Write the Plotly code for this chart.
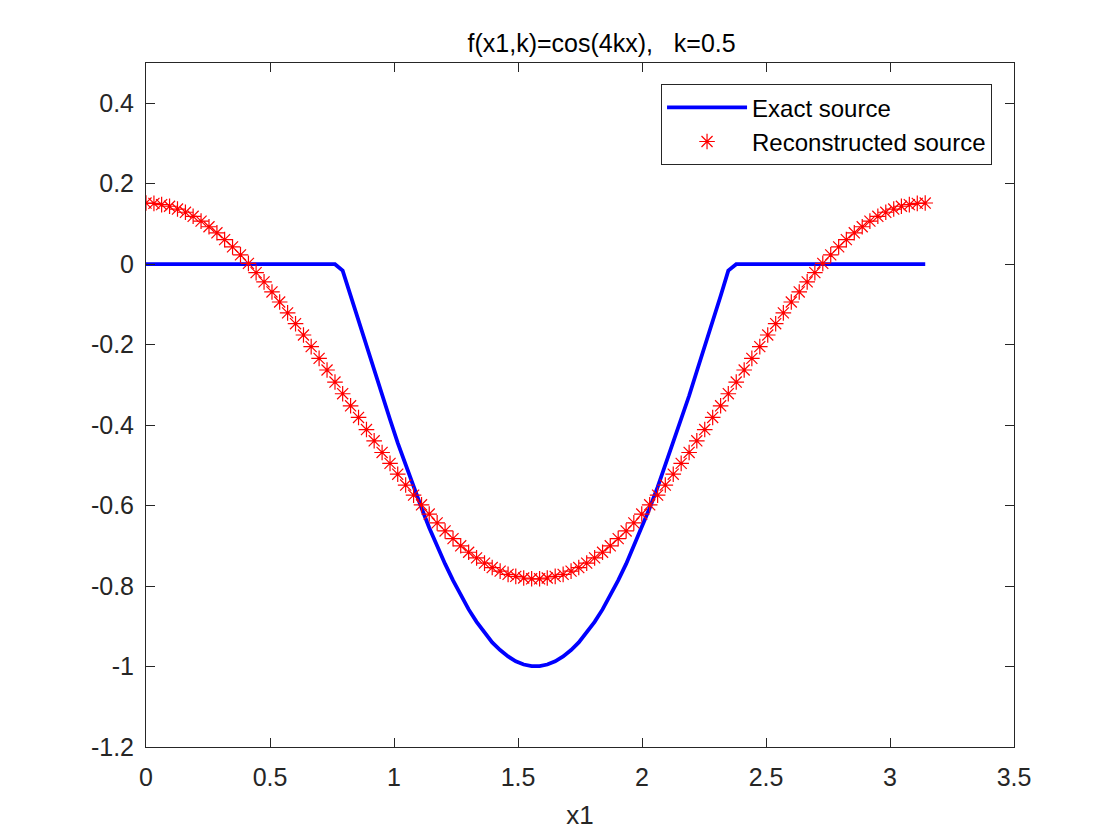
import plotly.graph_objects as go

# sample points on [0, pi]
x1 = [0.000, 0.032, 0.063, 0.095, 0.127, 0.159, 0.190, 0.222, 0.254, 0.286,
      0.317, 0.349, 0.381, 0.413, 0.444, 0.476, 0.508, 0.539, 0.571, 0.603,
      0.635, 0.666, 0.698, 0.730, 0.762, 0.793, 0.825, 0.857, 0.889, 0.920,
      0.952, 0.984, 1.015, 1.047, 1.079, 1.111, 1.142, 1.174, 1.206, 1.238,
      1.269, 1.301, 1.333, 1.365, 1.396, 1.428, 1.460, 1.491, 1.523, 1.555,
      1.587, 1.618, 1.650, 1.682, 1.714, 1.745, 1.777, 1.809, 1.841, 1.872,
      1.904, 1.936, 1.967, 1.999, 2.031, 2.063, 2.094, 2.126, 2.158, 2.190,
      2.221, 2.253, 2.285, 2.317, 2.348, 2.380, 2.412, 2.443, 2.475, 2.507,
      2.539, 2.570, 2.602, 2.634, 2.666, 2.697, 2.729, 2.761, 2.793, 2.824,
      2.856, 2.888, 2.919, 2.951, 2.983, 3.015, 3.046, 3.078, 3.110, 3.142]

exact_src = [0.0] * 25 + [
    -0.016, -0.079, -0.142, -0.205, -0.266, -0.327, -0.386, -0.444, -0.500, -0.554,
    -0.606, -0.655, -0.701, -0.745, -0.786, -0.824, -0.858, -0.889, -0.916, -0.940,
    -0.959, -0.975, -0.987, -0.995, -0.999,
    -0.999, -0.995, -0.987, -0.975, -0.959,
    -0.940, -0.916, -0.889, -0.858, -0.824, -0.786, -0.745, -0.701, -0.655, -0.606,
    -0.554, -0.500, -0.444, -0.386, -0.327, -0.266, -0.205, -0.142, -0.079, -0.016,
] + [0.0] * 25

recon_src = [
    0.152, 0.151, 0.148, 0.144, 0.137, 0.129, 0.119, 0.107, 0.093, 0.078,
    0.061, 0.043, 0.023, 0.002, -0.021, -0.044, -0.069, -0.094, -0.121, -0.148,
    -0.176, -0.205, -0.234, -0.263, -0.293, -0.322, -0.352, -0.381, -0.411, -0.439,
    -0.468, -0.495, -0.522, -0.549, -0.574, -0.598, -0.621, -0.643, -0.663, -0.682,
    -0.700, -0.716, -0.730, -0.743, -0.754, -0.763, -0.771, -0.776, -0.780, -0.782,
    -0.782, -0.780, -0.776, -0.771, -0.763, -0.754, -0.743, -0.730, -0.716, -0.700,
    -0.682, -0.663, -0.643, -0.621, -0.598, -0.574, -0.549, -0.522, -0.495, -0.468,
    -0.439, -0.411, -0.381, -0.352, -0.322, -0.293, -0.263, -0.234, -0.205, -0.176,
    -0.148, -0.121, -0.094, -0.069, -0.044, -0.021, 0.002, 0.023, 0.043, 0.061,
    0.078, 0.093, 0.107, 0.119, 0.129, 0.137, 0.144, 0.148, 0.151, 0.152,
]

xtick_vals = [0, 0.5, 1, 1.5, 2, 2.5, 3, 3.5]
xtick_text = ["0", "0.5", "1", "1.5", "2", "2.5", "3", "3.5"]
ytick_vals = [-1.2, -1.0, -0.8, -0.6, -0.4, -0.2, 0, 0.2, 0.4]
ytick_text = ["-1.2", "-1", "-0.8", "-0.6", "-0.4", "-0.2", "0", "0.2", "0.4"]

axis_col = "#262626"
font_fam = "Liberation Sans, Arial, sans-serif"

fig = go.Figure()

fig.add_trace(go.Scatter(
    x=x1, y=exact_src, mode="lines", name="Exact source",
    line=dict(color="#0000ff", width=3.8),
))
fig.add_trace(go.Scatter(
    x=x1, y=recon_src, mode="markers", name="Reconstructed source",
    marker=dict(symbol="asterisk-open", size=13, color="#ff0000",
                line=dict(color="#ff0000", width=1.2)),
))

axis_common = dict(
    showgrid=False, zeroline=False, showline=True, linecolor=axis_col,
    linewidth=1, mirror="allticks", ticks="inside", ticklen=9,
    tickcolor=axis_col, tickwidth=1,
    tickfont=dict(family=font_fam, size=25, color=axis_col),
)

# the page adds an 8px body margin, so margins are shifted to compensate
fig.update_layout(
    width=1120, height=840,
    margin=dict(l=138, r=114, t=55, b=101),
    paper_bgcolor="white", plot_bgcolor="white",
    font=dict(family=font_fam, color=axis_col),
    title=dict(text="f(x1,k)=cos(4kx),   k=0.5", x=0.53, xref="container",
               xanchor="center", y=1 - 35 / 840, yref="container",
               yanchor="middle", font=dict(size=25, color="#000000")),
    xaxis=dict(range=[0, 3.5], tickvals=xtick_vals, ticktext=xtick_text,
               ticklabelstandoff=8,
               title=dict(text="x1", standoff=15,
                          font=dict(size=26, color=axis_col)),
               **axis_common),
    yaxis=dict(range=[-1.2, 0.5], tickvals=ytick_vals, ticktext=ytick_text,
               ticklabelstandoff=6,
               **axis_common),
    legend=dict(x=0.9747, y=0.969, xanchor="right", yanchor="top",
                bgcolor="white", bordercolor=axis_col, borderwidth=1,
                font=dict(size=24, color="#000000"), itemwidth=80),
)

fig.write_html("out.html")
